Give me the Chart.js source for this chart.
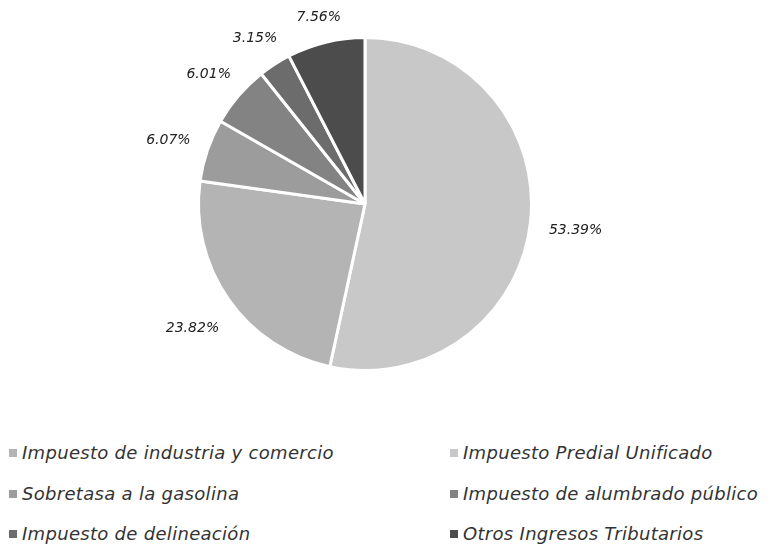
<!DOCTYPE html>
<html>
<head>
<meta charset="utf-8">
<script src="https://cdn.jsdelivr.net/npm/chart.js@4"></script>
<style>
    html, body { margin: 0; padding: 0; background: #fff; }
    #wrap { position: relative; width: 783px; height: 554px; overflow: hidden; }
    #chartBox { position: absolute; left: 0; top: 0; width: 783px; height: 420px; }
    #legend { position: absolute; left: 0; top: 443px; width: 783px; }
    .item { position: absolute; font-family: "DejaVu Sans", sans-serif; font-style: italic;
            font-size: 18px; letter-spacing: 0.3px; color: #333; white-space: nowrap; line-height: 20px; }
    .box { display: inline-block; width: 8px; height: 8px; margin-right: 5px; vertical-align: 2px; }
</style>
</head>
<body>
<div id="wrap">
    <div id="chartBox"><canvas id="pie"></canvas></div>
    <div id="legend"></div>
</div>
<script>
    // slices clockwise from 12 o'clock
    let labels = [
        'Impuesto Predial Unificado',
        'Impuesto de industria y comercio',
        'Sobretasa a la gasolina',
        'Impuesto de alumbrado público',
        'Impuesto de delineación',
        'Otros Ingresos Tributarios'
    ];
    let values = [53.39, 23.82, 6.07, 6.01, 3.15, 7.56];
    let colors = ['#c8c8c8', '#b4b4b4', '#9c9c9c', '#838383', '#6c6c6c', '#4c4c4c'];
    // legend reads row by row, two columns
    let legendOrder = [1, 0, 2, 3, 4, 5];

    //labels outside of the pie, box edge kept a small gap off the rim
    const outsideLabels = {
        id: 'outsideLabels',
        afterDatasetsDraw(chart) {
            let ctx = chart.ctx;
            let arcs = chart.getDatasetMeta(0).data;
            ctx.save();
            ctx.font = 'italic 14px "DejaVu Sans"';
            ctx.fillStyle = '#222';
            ctx.textAlign = 'center';
            ctx.textBaseline = 'middle';
            for (let i = 0; i < arcs.length; i++) {
                let a = arcs[i];
                let txt = values[i].toFixed(2) + '%';
                let w = ctx.measureText(txt).width;
                let mid = (a.startAngle + a.endAngle) / 2;
                let c = Math.cos(mid), s = Math.sin(mid);
                let r = a.outerRadius + 18 + Math.abs(c) * w / 2 + Math.abs(s) * 7;
                ctx.fillText(txt, a.x + c * r, a.y + s * r + 4);
            }
            ctx.restore();
        }
    };

    let myChart = new Chart(document.getElementById('pie'), {
        type: 'pie',
        data: {
            labels: labels,
            datasets: [{
                data: values,
                backgroundColor: colors,
                borderColor: '#fff',
                borderWidth: 3,
                hoverOffset: 0
            }]
        },
        options: {
            responsive: true,
            maintainAspectRatio: false,
            animation: false,
            layout: { padding: { left: 197, right: 250, top: 36, bottom: 48 } },
            plugins: {
                legend: { display: false },
                tooltip: { enabled: false }
            }
        },
        plugins: [outsideLabels]
    });

    // html legend, 2 columns
    let legend = document.getElementById('legend');
    let colX = [9, 450];
    let rowY = [10, 51, 91];
    for (let k = 0; k < legendOrder.length; k++) {
        let i = legendOrder[k];
        let div = document.createElement('div');
        div.className = 'item';
        div.style.left = colX[k % 2] + 'px';
        div.style.top = (rowY[Math.floor(k / 2)] - 10) + 'px';
        div.innerHTML = `<span class="box" style="background:${colors[i]}"></span>${labels[i]}`;
        legend.appendChild(div);
    }
</script>
</body>
</html>
